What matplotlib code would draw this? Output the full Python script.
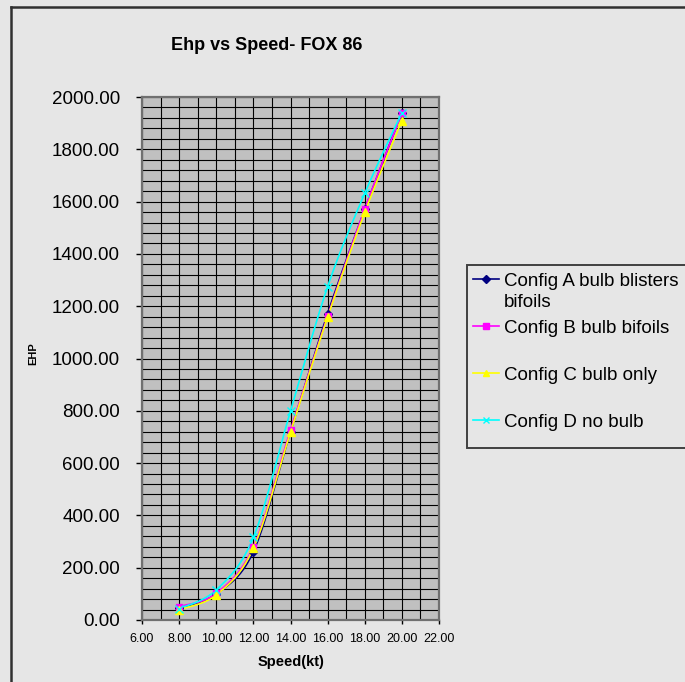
import numpy as np
import matplotlib
matplotlib.use("Agg")
import matplotlib.pyplot as plt
from matplotlib.lines import Line2D
from matplotlib.patches import Rectangle
from matplotlib.ticker import MultipleLocator, FormatStrFormatter

plt.rcParams['font.family'] = ['Liberation Sans', 'DejaVu Sans']

speed = [8, 10, 12, 14, 16, 18, 20]
config_a = [45, 100, 261, 720, 1172, 1570, 1940]
config_b = [51, 102, 280, 727, 1162, 1572, 1938]
config_c = [40, 96, 274, 718, 1158, 1559, 1910]
config_d = [43, 115, 316, 799, 1275, 1632, 1940]
labels = ["Config A bulb blisters\nbifoils", "Config B bulb bifoils",
          "Config C bulb only", "Config D no bulb"]
title = "Ehp vs Speed- FOX 86"

W, H = 685, 682
fig = plt.figure(figsize=(W / 100, H / 100), dpi=100)
fig.patch.set_facecolor('#e6e6e6')


def fx(px):
    return px / W


def fy(py):
    return 1 - py / H


def smooth(xs, ys, n=24):
    P = np.column_stack([xs, ys]).astype(float)
    m = len(P)
    out = [P[0]]
    for i in range(m - 1):
        p0 = P[max(i - 1, 0)]
        p1 = P[i]
        p2 = P[i + 1]
        p3 = P[min(i + 2, m - 1)]
        c1 = p1 + (p2 - p0) / 6.0
        c2 = p2 - (p3 - p1) / 6.0
        t = np.linspace(0, 1, n)[1:, None]
        seg = ((1 - t) ** 3) * p1 + 3 * ((1 - t) ** 2) * t * c1 + 3 * (1 - t) * t ** 2 * c2 + t ** 3 * p2
        out.extend(seg)
    out = np.array(out)
    return out[:, 0], out[:, 1]


left, right, top, bottom = 142, 439, 97, 620
ax = fig.add_axes([fx(left), fy(bottom), fx(right - left), (bottom - top) / H])
ax.set_facecolor('#c0c0c0')
ax.set_xlim(6, 22)
ax.set_ylim(0, 2000)
ax.xaxis.set_major_locator(MultipleLocator(2))
ax.xaxis.set_minor_locator(MultipleLocator(1))
ax.yaxis.set_major_locator(MultipleLocator(200))
ax.yaxis.set_minor_locator(MultipleLocator(40))
ax.xaxis.set_major_formatter(FormatStrFormatter('%.2f'))
ax.yaxis.set_major_formatter(FormatStrFormatter('%.2f'))
ax.grid(True, which='both', color='black', linewidth=0.8)
ax.set_axisbelow(True)
ax.tick_params(axis='y', which='major', direction='out', length=4, width=1,
               color='black', labelsize=13.5, pad=12)
ax.tick_params(axis='x', which='major', direction='out', length=3, width=1,
               color='black', labelsize=9, pad=6)
ax.tick_params(which='minor', length=0)
for s in ax.spines.values():
    s.set_color('#707070')
    s.set_linewidth(1.6)

series = [
    (config_a, '#000080', 'D', 4.5, 'none'),
    (config_b, '#ff00ff', 's', 4.5, 'none'),
    (config_c, '#ffff00', '^', 5.5, 'none'),
    (config_d, '#00ffff', 'x', 5.5, 'none'),
]
for vals, col, mk, ms, _ in series:
    sx, sy = smooth(speed, vals)
    ax.plot(sx, sy, color=col, linewidth=1.2, zorder=3)
    ax.plot(speed, vals, linestyle='none', marker=mk, markersize=ms,
            color=col, markeredgecolor=col, markeredgewidth=1.0, zorder=4)

ax.set_xlabel("Speed(kt)", fontsize=10.5, fontweight='bold')
ax.xaxis.set_label_coords(fx(291 - left) / fx(right - left), 0)
ax.xaxis.label.set_verticalalignment('center')
ax.xaxis.label.set_position((0, 0))
ax.xaxis.label.set_visible(False)
fig.text(fx(291), fy(662), "Speed(kt)", fontsize=10.5, fontweight='bold',
         ha='center', va='center')
fig.text(fx(33), fy(354), "EHP", fontsize=8, fontweight='bold',
         ha='center', va='center', rotation=90)

fig.text(fx(267), fy(50), title, fontsize=13, fontweight='bold',
         ha='center', va='baseline')

# Figure frame (left and top edges)
fig.add_artist(Line2D([fx(11), fx(11)], [fy(H + 5), fy(7)], color='#303030', linewidth=1.8))
fig.add_artist(Line2D([fx(11), fx(W + 5)], [fy(7), fy(7)], color='#303030', linewidth=1.8))

# Legend
fig.add_artist(Rectangle((fx(467), fy(448)), fx(240), (448 - 265) / H,
                         facecolor='#e6e6e6', edgecolor='#404040', linewidth=1.4))
ycent = [279, 326, 373, 420]
for (vals, col, mk, ms, _), lab, yc in zip(series, labels, ycent):
    fig.add_artist(Line2D([fx(473), fx(499)], [fy(yc), fy(yc)], color=col, linewidth=1.2))
    fig.add_artist(Line2D([fx(486)], [fy(yc)], marker=mk, markersize=ms - 0.5,
                          color=col, markeredgecolor=col, linestyle='none'))
    lines = lab.split("\n")
    for k, ln in enumerate(lines):
        fig.text(fx(504), fy(yc + 7 + 21 * k), ln, fontsize=13.5,
                 ha='left', va='baseline')

fig.savefig("out.png", dpi=100, facecolor=fig.get_facecolor())
